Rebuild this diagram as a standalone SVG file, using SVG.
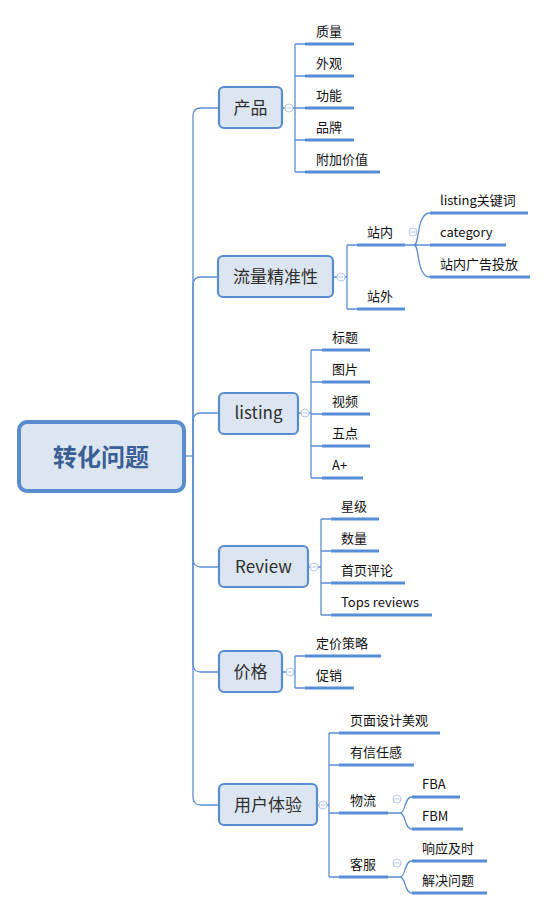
<svg xmlns="http://www.w3.org/2000/svg" width="548" height="910" viewBox="0 0 548 910">
<style>
.ln{fill:none;stroke:#5b8fd3;stroke-width:1.3}
.ul{stroke:#558ed5;stroke-width:3.2;fill:none}
.mn rect{fill:#dce6f2;stroke:#5a8dd0;stroke-width:2.2}
.mn text{font-family:"Noto Sans CJK SC","Liberation Sans",sans-serif;font-size:17px;fill:#2e2e2e;text-anchor:middle}
.ch text{font-family:"Noto Sans CJK SC","Liberation Sans",sans-serif;font-size:13px;fill:#111}
.cl circle{fill:#fff;stroke:#b3c6ea;stroke-width:1}
.cl path{stroke:#b3c6ea;stroke-width:1}
</style>
<rect width="548" height="910" fill="#fff"/>
<g id="connectors">
<path class="ln" d="M184,456 H193"/>
<path class="ln" d="M193,456 V116 Q193,108 201,108 H219"/>
<path class="ln" d="M193,456 V285 Q193,277 201,277 H218"/>
<path class="ln" d="M193,456 V421 Q193,413 201,413 H219"/>
<path class="ln" d="M193,456 V559 Q193,567 201,567 H219"/>
<path class="ln" d="M193,456 V664 Q193,672 201,672 H219"/>
<path class="ln" d="M193,456 V797 Q193,805 201,805 H219"/>
<path class="ln" d="M282,108 H295 M295,44 V172 M295,44 H305 M295,76 H305 M295,108 H305 M295,140 H305 M295,172 H305"/>
<path class="ln" d="M333,277 H347 M347,245 V309 M347,245 H357 M347,309 H357"/>
<path class="ln" d="M405,245 H430 M414,245 C420,245 416,213 430,213 M414,245 C420,245 416,277 430,277"/>
<path class="ln" d="M298,413 H311 M311,350 V478 M311,350 H322 M311,382 H322 M311,414 H322 M311,446 H322 M311,478 H322"/>
<path class="ln" d="M308,567 H321 M321,519 V615 M321,519 H331 M321,551 H331 M321,583 H331 M321,615 H331"/>
<path class="ln" d="M282,672 H295 M295,656 V688 M295,656 H305 M295,688 H305"/>
<path class="ln" d="M317,805 H329 M329,733 V877 M329,733 H339 M329,765 H339 M329,813 H339 M329,877 H339"/>
<path class="ln" d="M388,813 H400 C406,813 404,797 412,797 M400,813 C406,813 404,829 412,829"/>
<path class="ln" d="M388,877 H400 C406,877 404,861 412,861 M400,877 C406,877 404,893 412,893"/>
</g>
<g id="collapse" class="cl">
<circle cx="289" cy="108" r="4"/><path d="M286.5,108 H291.5"/>
<circle cx="341" cy="277" r="4"/><path d="M338.5,277 H343.5"/>
<circle cx="413" cy="232" r="4"/><path d="M410.5,232 H415.5"/>
<circle cx="305" cy="413" r="4"/><path d="M302.5,413 H307.5"/>
<circle cx="314" cy="567" r="4"/><path d="M311.5,567 H316.5"/>
<circle cx="290" cy="672" r="4"/><path d="M287.5,672 H292.5"/>
<circle cx="323" cy="805" r="4"/><path d="M320.5,805 H325.5"/>
<circle cx="397" cy="799" r="4"/><path d="M394.5,799 H399.5"/>
<circle cx="397" cy="863" r="4"/><path d="M394.5,863 H399.5"/>
</g>
<g id="root">
<rect x="19" y="422" width="165" height="69" rx="8" fill="#dce6f2" stroke="#5a8dd0" stroke-width="4"/>
<text x="101" y="466" font-family="Noto Sans CJK SC,Liberation Sans,sans-serif" font-size="24" font-weight="bold" fill="#3a5f95" text-anchor="middle">转化问题</text>
</g>
<g id="n-chanpin" class="mn"><rect x="219" y="87" width="63" height="41" rx="5"/><text x="250.5" y="114">产品</text></g>
<g id="n-liuliang" class="mn"><rect x="218" y="256" width="115" height="41" rx="5"/><text x="275.5" y="283">流量精准性</text></g>
<g id="n-listing" class="mn"><rect x="219" y="393" width="79" height="41" rx="5"/><text x="258.5" y="419">listing</text></g>
<g id="n-review" class="mn"><rect x="219" y="546" width="89" height="41" rx="5"/><text x="263.5" y="573">Review</text></g>
<g id="n-jiage" class="mn"><rect x="219" y="651" width="63" height="41" rx="5"/><text x="250.5" y="678">价格</text></g>
<g id="n-yonghu" class="mn"><rect x="219" y="784" width="98" height="41" rx="5"/><text x="268" y="811">用户体验</text></g>
<g class="ch">
<g id="c-zhiliang"><path class="ul" d="M305,44 H354"/><text x="316" y="36">质量</text></g>
<g id="c-waiguan"><path class="ul" d="M305,76 H354"/><text x="316" y="68">外观</text></g>
<g id="c-gongneng"><path class="ul" d="M305,108 H354"/><text x="316" y="100">功能</text></g>
<g id="c-pinpai"><path class="ul" d="M305,140 H354"/><text x="316" y="132">品牌</text></g>
<g id="c-fujia"><path class="ul" d="M305,172 H380"/><text x="316" y="164">附加价值</text></g>
<g id="c-zhannei"><path class="ul" d="M357,245 H405"/><text x="367" y="237">站内</text></g>
<g id="c-zhanwai"><path class="ul" d="M357,309 H405"/><text x="367" y="301">站外</text></g>
<g id="c-kw"><path class="ul" d="M430,213 H528"/><text x="440" y="205">listing关键词</text></g>
<g id="c-cat"><path class="ul" d="M430,245 H506"/><text x="440" y="237">category</text></g>
<g id="c-ad"><path class="ul" d="M430,277 H530"/><text x="440" y="269">站内广告投放</text></g>
<g id="c-biaoti"><path class="ul" d="M322,350 H370"/><text x="332" y="342">标题</text></g>
<g id="c-tupian"><path class="ul" d="M322,382 H370"/><text x="332" y="374">图片</text></g>
<g id="c-shipin"><path class="ul" d="M322,414 H370"/><text x="332" y="406">视频</text></g>
<g id="c-wudian"><path class="ul" d="M322,446 H370"/><text x="332" y="438">五点</text></g>
<g id="c-aplus"><path class="ul" d="M322,478 H363"/><text x="332" y="470">A+</text></g>
<g id="c-xingji"><path class="ul" d="M331,519 H379"/><text x="341" y="511">星级</text></g>
<g id="c-shuliang"><path class="ul" d="M331,551 H379"/><text x="341" y="543">数量</text></g>
<g id="c-shouye"><path class="ul" d="M331,583 H405"/><text x="341" y="575">首页评论</text></g>
<g id="c-tops"><path class="ul" d="M331,615 H432"/><text x="341" y="607">Tops reviews</text></g>
<g id="c-dingjia"><path class="ul" d="M305,656 H381"/><text x="316" y="648">定价策略</text></g>
<g id="c-cuxiao"><path class="ul" d="M305,688 H354"/><text x="316" y="680">促销</text></g>
<g id="c-yemian"><path class="ul" d="M339,733 H440"/><text x="350" y="725">页面设计美观</text></g>
<g id="c-xinren"><path class="ul" d="M339,765 H414"/><text x="350" y="757">有信任感</text></g>
<g id="c-wuliu"><path class="ul" d="M339,813 H388"/><text x="350" y="805">物流</text></g>
<g id="c-kefu"><path class="ul" d="M339,877 H388"/><text x="350" y="869">客服</text></g>
<g id="c-fba"><path class="ul" d="M412,797 H460"/><text x="422" y="789">FBA</text></g>
<g id="c-fbm"><path class="ul" d="M412,829 H463"/><text x="422" y="821">FBM</text></g>
<g id="c-xiangying"><path class="ul" d="M412,861 H487"/><text x="422" y="853">响应及时</text></g>
<g id="c-jiejue"><path class="ul" d="M412,893 H487"/><text x="422" y="885">解决问题</text></g>
</g>
</svg>
